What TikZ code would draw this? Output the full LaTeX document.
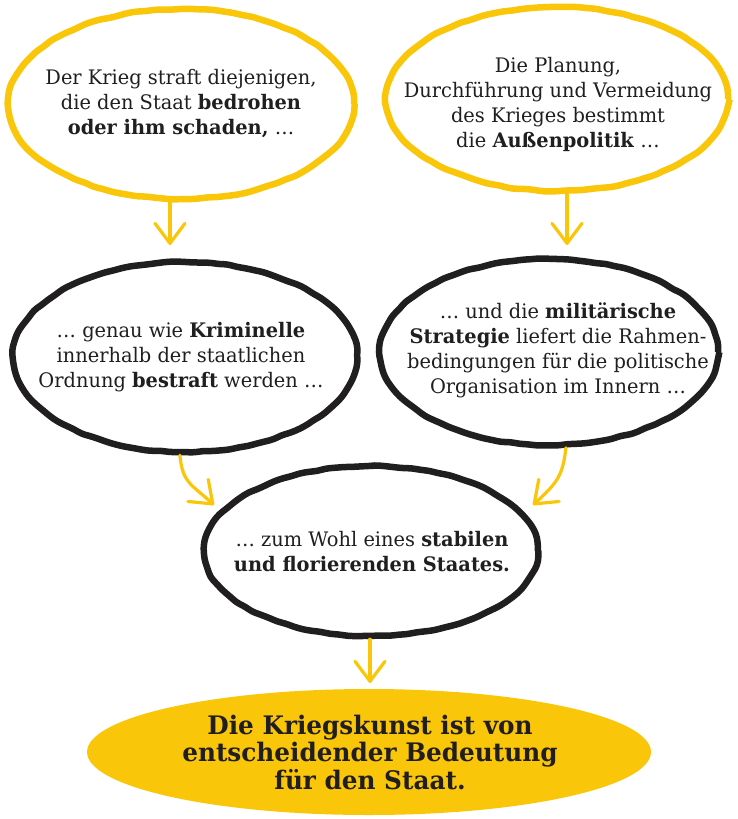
\documentclass[tikz,border=0pt]{standalone}
\usepackage{fontspec}
\setmainfont{DejaVu Serif}[FakeStretch=0.97]
\usetikzlibrary{shapes.geometric,arrows.meta,decorations.pathmorphing}
\definecolor{yel}{RGB}{250,198,10}
\definecolor{ink}{RGB}{32,30,30}
\begin{document}
\begin{tikzpicture}[x=1pt,y=-1pt,
  bubble/.style={ellipse, line width=6.5pt, inner sep=0pt,
    decorate, decoration={random steps,segment length=9pt,amplitude=0.7pt},
    rounded corners=4pt},
  ybub/.style={bubble, draw=yel},
  kbub/.style={bubble, draw=ink},
  txt/.style={align=center, text=ink, inner sep=0pt, font=\fontsize{20}{25}\selectfont},
  bigtxt/.style={align=center, text=ink, inner sep=0pt, font=\fontsize{25.5}{27.5}\selectfont\bfseries},
  arr/.style={draw=yel, line width=3.2pt, line cap=round,
    -{Straight Barb[length=20pt,width=30pt,line width=3.2pt,round]}},
]
\useasboundingbox (0,0) rectangle (737,819);

% bubbles
\node[ybub, minimum width=346pt, minimum height=190pt] (e1) at (181,104) {};
\node[ybub, minimum width=342pt, minimum height=184pt] (e2) at (557,99) {};
\node[kbub, minimum width=344pt, minimum height=190pt] (e3) at (185,357) {};
\node[kbub, minimum width=338pt, minimum height=186pt] (e4) at (549,352) {};
\node[kbub, minimum width=334pt, minimum height=170pt] (e5) at (371,551) {};
\node[ellipse, fill=yel, inner sep=0pt, minimum width=564pt, minimum height=126pt] (e6) at (369,752) {};

% texts
\node[txt] (t1) at (181,104) {Der Krieg straft diejenigen,\\die den Staat \textbf{bedrohen}\\\textbf{oder ihm schaden,} \dots};
\node[txt] (t2) at (558,104) {Die Planung,\\Durchführung und Vermeidung\\des Krieges bestimmt\\die \textbf{Außenpolitik} \dots};
\node[txt] (t3) at (181,357) {\dots{} genau wie \textbf{Kriminelle}\\innerhalb der staatlichen\\Ordnung \textbf{bestraft} werden \dots};
\node[txt] (t4) at (558,350) {\dots{} und die \textbf{militärische}\\\textbf{Strategie} liefert die Rahmen-\\bedingungen für die politische\\Organisation im Innern \dots};
\node[txt] (t5) at (372,552) {\dots{} zum Wohl eines \textbf{stabilen}\\\textbf{und florierenden Staates.}};
\node[bigtxt] (t6) at (370,752) {Die Kriegskunst ist von\\entscheidender Bedeutung\\für den Staat.};

% arrow tips
\coordinate (a1) at (170,245);
\coordinate (a2) at (567,245);
\coordinate (a3) at (214,505);
\coordinate (a4) at (533,505);
\coordinate (a5) at (370,683);

\draw[arr] (a1 |- e1.south) -- (a1);
\draw[arr] (a2 |- e2.south) -- (a2);
\draw[arr] (e3.267) .. controls +(3,28) and +(-24,-22) .. (a3);
\draw[arr] (e4.280) .. controls +(-3,28) and +(24,-22) .. (a4);
\draw[arr] (a5 |- e5.south) -- (a5);
\end{tikzpicture}
\end{document}
